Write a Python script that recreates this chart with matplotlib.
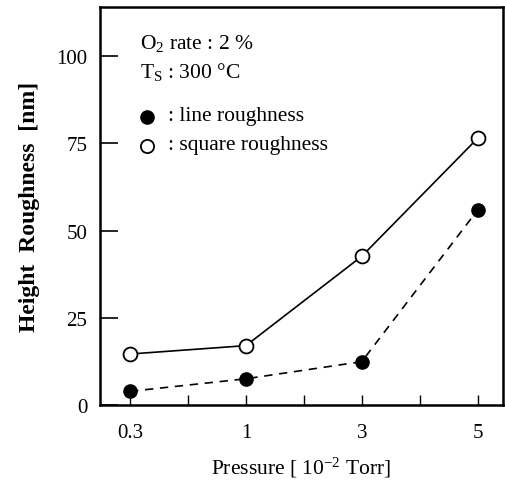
import matplotlib.pyplot as plt
from matplotlib.ticker import FixedLocator

plt.rcParams['font.family'] = ['Liberation Serif', 'DejaVu Serif']
plt.rcParams['mathtext.fontset'] = 'custom'
plt.rcParams['mathtext.rm'] = 'Liberation Serif'
plt.rcParams['mathtext.it'] = 'Liberation Serif'

# data
pressure = ['0.3', '1', '3', '5']
line_rough = [3.9, 7.5, 12.4, 55.8]
square_rough = [14.6, 17.0, 42.6, 76.4]
y_ticks = [0, 25, 50, 75, 100]

x = list(range(len(pressure)))

fig = plt.figure(figsize=(5.05, 4.85), dpi=100)
ax = fig.add_axes([0.198, 0.163, 0.798, 0.82])

ax.plot(x, square_rough, '-', color='black', lw=1.2, marker='o',
        ms=10, mfc='white', mec='black', mew=1.3, zorder=3)
ax.plot(x, line_rough, '--', color='black', lw=1.2, dashes=(5, 4),
        marker='o', ms=9.5, mfc='black', mec='black', zorder=3)

ax.set_xlim(-0.26, 3.22)
ax.set_ylim(0, 114)
ax.set_xticks(x)
ax.set_xticklabels(pressure)
ax.xaxis.set_minor_locator(FixedLocator([0.5, 1.5, 2.5]))
ax.set_yticks(y_ticks)

ax.tick_params(axis='x', which='both', direction='in', length=7, width=1,
               labelsize=15, pad=13, top=False)
ax.tick_params(axis='y', direction='in', length=13, width=1.2,
               labelsize=15, pad=9, right=False)
ax.tick_params(axis='y', which='minor', left=False)

for s in ax.spines.values():
    s.set_linewidth(1.8)

ax.set_xlabel('Pressure [ 10$^{-2}$ Torr]', fontsize=15.5, labelpad=9)
ax.set_ylabel('Height  Roughness  [nm]', fontsize=17, fontweight='bold',
              labelpad=12)

ax.text(0.099, 0.912, 'O$_2$ rate : 2 %', transform=ax.transAxes,
        fontsize=15.5, va='center')
ax.text(0.099, 0.839, 'T$_S$ : 300 °C', transform=ax.transAxes,
        fontsize=15.5, va='center')
ax.plot([0.117], [0.724], 'o', transform=ax.transAxes, ms=9.5,
        mfc='black', mec='black')
ax.plot([0.117], [0.651], 'o', transform=ax.transAxes, ms=9.5,
        mfc='white', mec='black', mew=1.3)
ax.text(0.168, 0.728, ': line roughness', transform=ax.transAxes,
        fontsize=15.5, va='center')
ax.text(0.168, 0.655, ': square roughness', transform=ax.transAxes,
        fontsize=15.5, va='center')

fig.savefig('out.png', dpi=100)
